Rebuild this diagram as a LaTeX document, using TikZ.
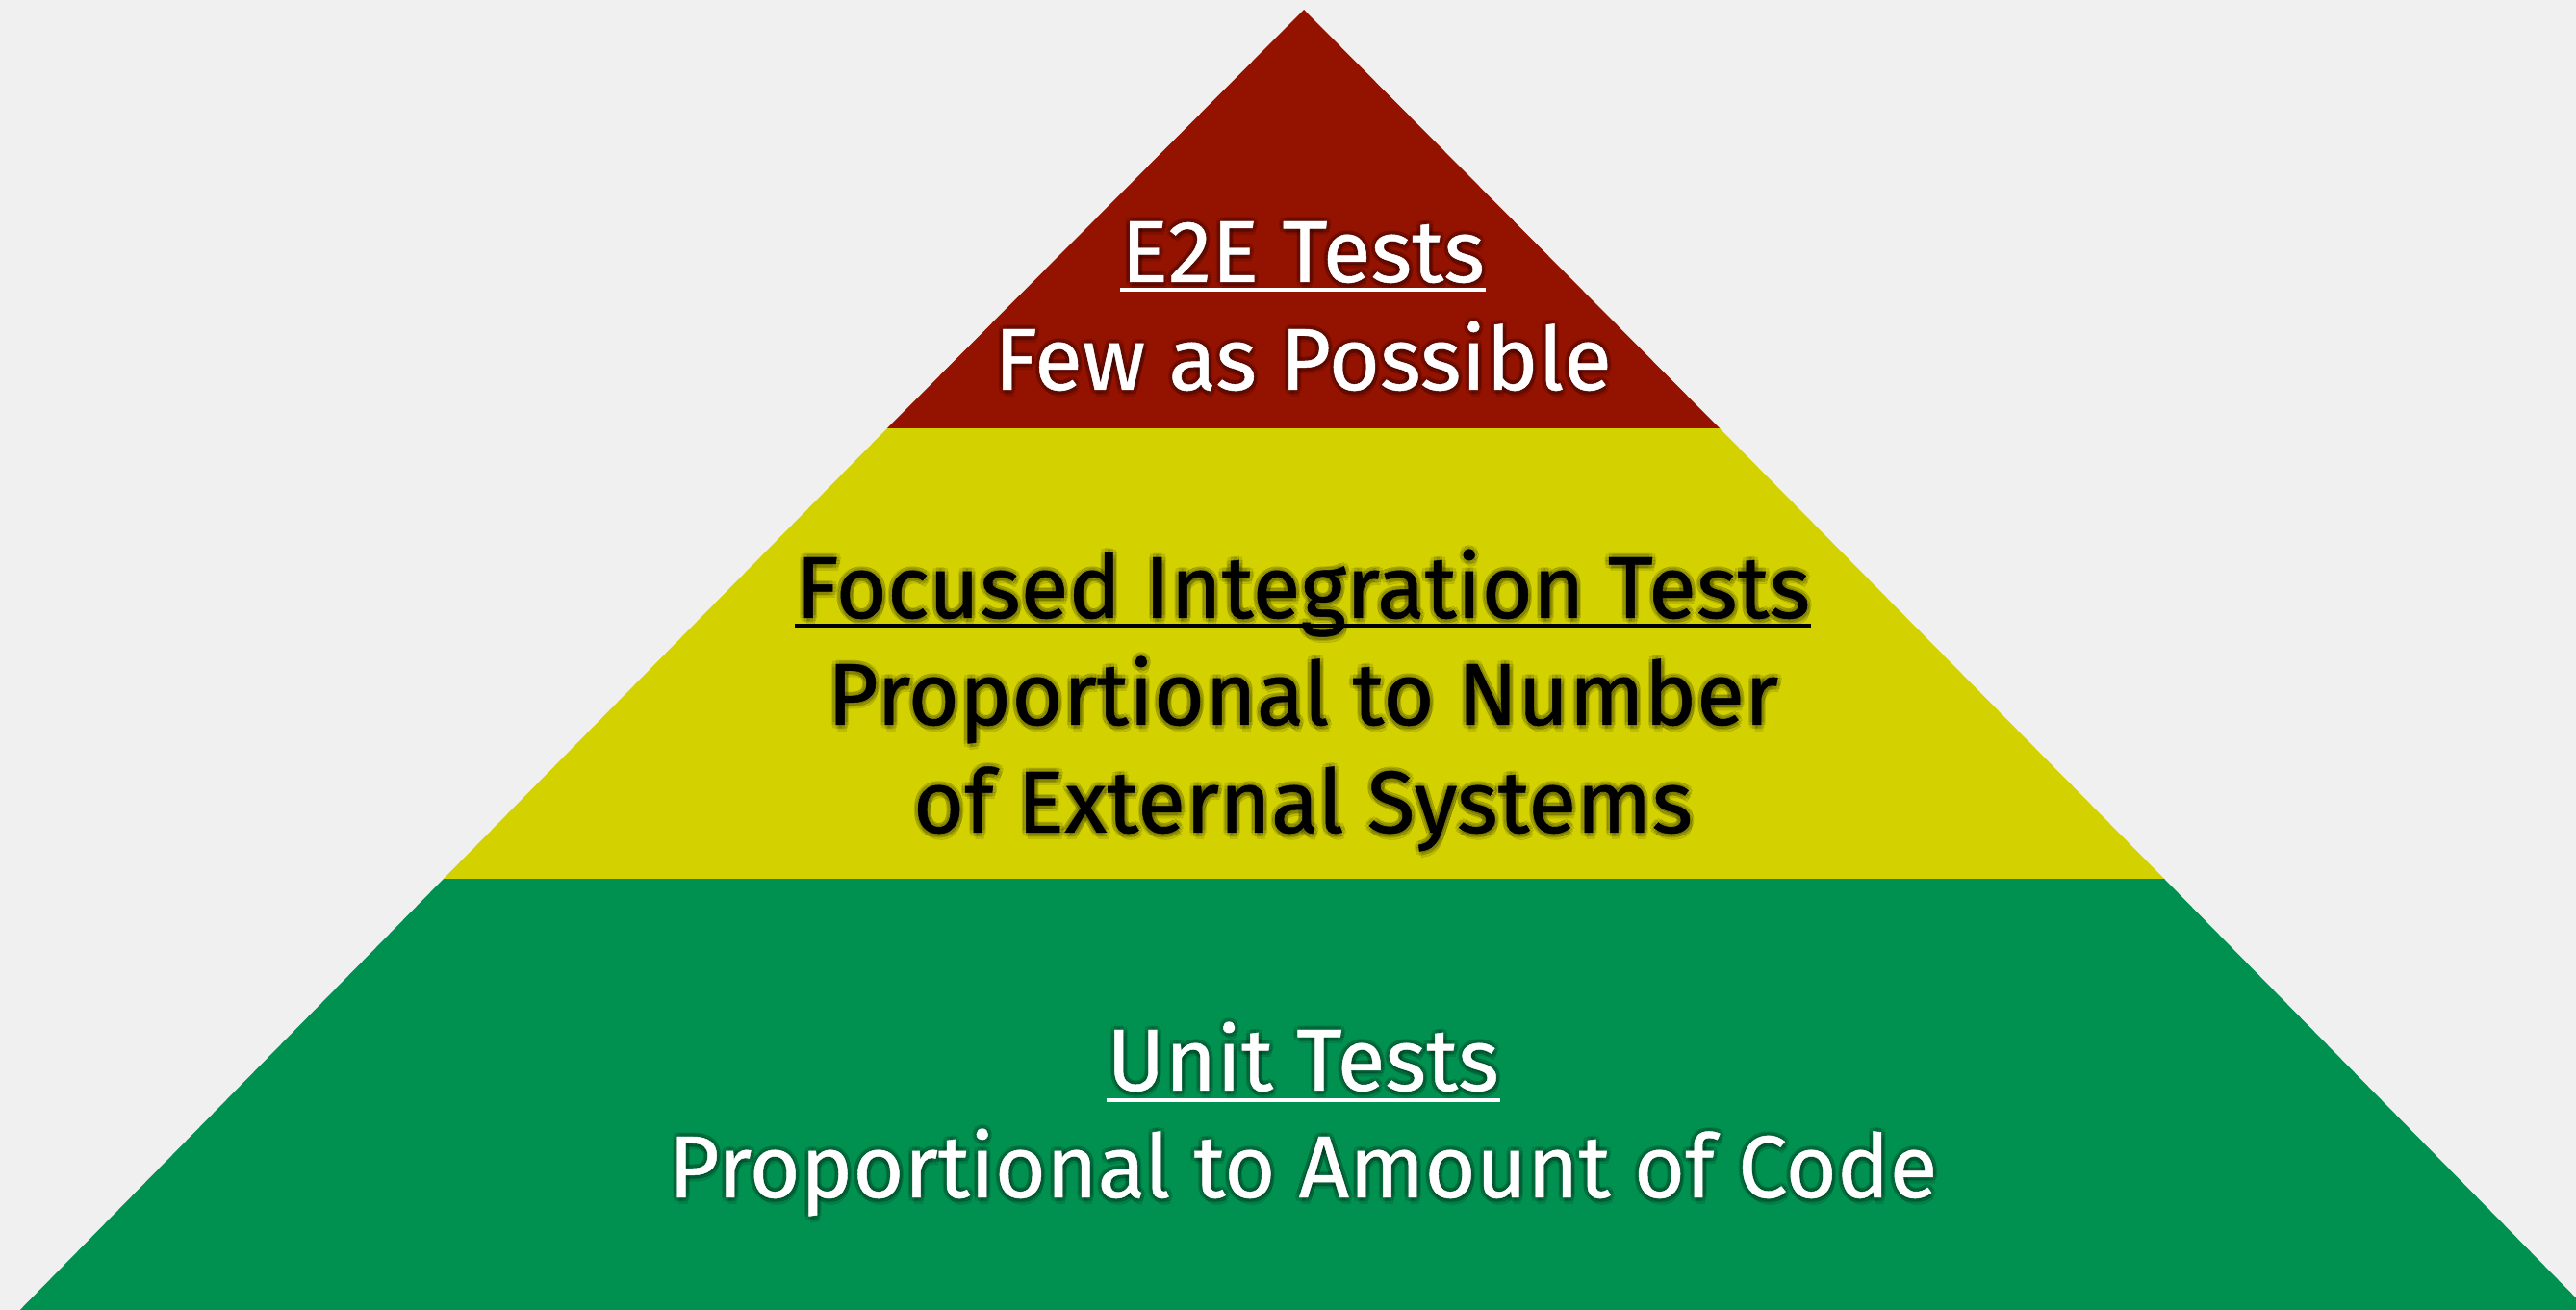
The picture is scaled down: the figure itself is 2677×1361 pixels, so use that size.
\documentclass[tikz,border=0pt]{standalone}
\usepackage{fontspec}
\setmainfont{Fira Sans}[FakeBold=0.5]
\definecolor{bgpaper}{HTML}{F0F0F0}
\definecolor{topred}{HTML}{931200}
\definecolor{midyellow}{HTML}{D3D200}
\definecolor{basegreen}{HTML}{009050}
\tikzset{
  lbl/.style={anchor=base, inner sep=0pt, font=\fontsize{26}{30}\selectfont},
  uline/.style={line width=1.1pt},
}
% label with a soft dark halo: name, x, baseline y, text colour, text
\newcommand\layerlabel[5]{%
  \foreach \dx/\dy in {-1.2/0,1.2/0,0/-1.2,0/1.2,0.9/-0.9,-0.9/-0.9,0.9/0.9,-0.9/0.9,0.6/-1.8}
    \node[lbl, text=black, opacity=0.10] at ([xshift=\dx pt,yshift=\dy pt]#2,#3) {#5};
  \node[lbl, text=#4] (#1) at (#2,#3) {#5};
}
\begin{document}
\begin{tikzpicture}[x=0.01cm,y=-0.01cm]
  \fill[bgpaper] (0,0) rectangle (2677,1361);
  \useasboundingbox (0,0) rectangle (2677,1361);
  \begin{scope}
    \clip (0,0) rectangle (2677,1361);
    % pyramid bands
    \fill[basegreen] (461,913) -- (2249,913) -- (2700,1372) -- (10,1372) -- cycle;
    \fill[midyellow] (922,445) -- (1787,445) -- (2249,913) -- (461,913) -- cycle;
    \fill[topred] (1355,10) -- (1787,445) -- (922,445) -- cycle;
  \end{scope}
  % top band
  \layerlabel{e2e}{1354}{293}{white}{E2E Tests}
  \layerlabel{e2esub}{1354}{405}{white}{Few as Possible}
  \draw[uline, white] ([yshift=-0.08cm]e2e.base west) -- ([yshift=-0.08cm]e2e.base east);
  % middle band
  \layerlabel{fit}{1354}{642}{black}{Focused Integration Tests}
  \layerlabel{fitsub}{1354}{753}{black}{Proportional to Number}
  \layerlabel{fitsubb}{1354}{865}{black}{of External Systems}
  \draw[uline, black] ([yshift=-0.08cm]fit.base west) -- ([yshift=-0.08cm]fit.base east);
  % bottom band
  \layerlabel{unit}{1354}{1133}{white}{Unit Tests}
  \layerlabel{unitsub}{1354}{1244}{white}{Proportional to Amount of Code}
  \draw[uline, white] ([yshift=-0.1cm]unit.base west) -- ([yshift=-0.1cm]unit.base east);
\end{tikzpicture}
\end{document}
